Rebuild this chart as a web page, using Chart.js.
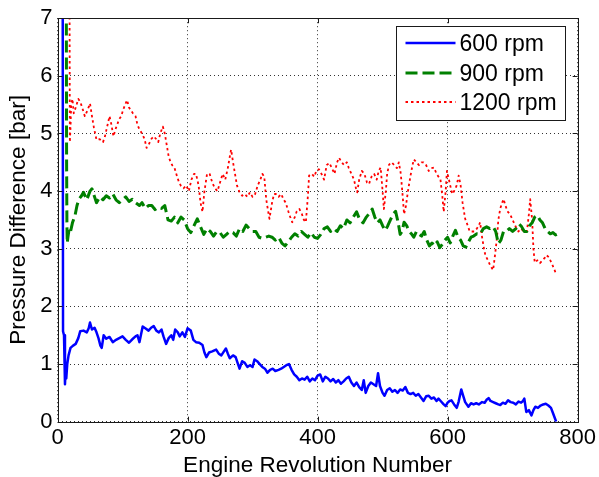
<!DOCTYPE html>
<html>
<head>
<meta charset="utf-8">
<script src="https://cdn.jsdelivr.net/npm/chart.js@4.4.1/dist/chart.umd.min.js"></script>
<style>
html,body{margin:0;padding:0;background:#fff;overflow:hidden}
#wrap{width:599px;height:477px;position:relative}
</style>
</head>
<body>
<div id="wrap"><canvas id="c" width="599" height="477"></canvas></div>
<script>
// ---- data ----
const seriesNames = ['600 rpm', '900 rpm', '1200 rpm'];
const xTickValues = [0, 200, 400, 600, 800];
const yTickValues = [0, 1, 2, 3, 4, 5, 6, 7];
const xAxisTitle = 'Engine Revolution Number';
const yAxisTitle = 'Pressure Difference [bar]';

const rpm600 = [
[8,7.5],[8.5,1.57],[10,1.5],[11.5,0.65],[12.5,0.9],[13.5,0.75],[15,1.0],[17,1.15],[20,1.28],[24,1.32],[28,1.35],[32,1.45],[35,1.57],[40,1.58],[45,1.55],[48,1.62],[50,1.72],[53,1.6],[57,1.63],[60,1.55],[63,1.45],[66,1.32],[68,1.28],[71,1.5],[75,1.44],[80,1.47],[85,1.38],[90,1.42],[95,1.45],[100,1.48],[105,1.42],[110,1.37],[115,1.43],[120,1.48],[123,1.5],[126,1.38],[131,1.65],[135,1.62],[140,1.58],[144,1.63],[148,1.66],[152,1.58],[156,1.55],[160,1.6],[163,1.48],[167,1.35],[171,1.45],[175,1.5],[178,1.42],[181,1.6],[185,1.55],[188,1.48],[192,1.55],[196,1.47],[200,1.62],[205,1.58],[209,1.42],[213,1.38],[218,1.37],[223,1.33],[226,1.2],[229,1.12],[233,1.2],[238,1.22],[244,1.25],[248,1.18],[252,1.15],[256,1.22],[259,1.27],[262,1.18],[265,1.1],[270,1.15],[274,1.12],[277,1.02],[280,0.92],[284,1.05],[288,1.02],[292,0.95],[296,0.98],[300,0.95],[303,1.08],[307,1.05],[311,1.0],[315,0.95],[319,0.92],[323,0.85],[327,0.9],[331,0.92],[335,0.88],[340,0.9],[344,0.92],[348,0.95],[352,0.98],[356,1.0],[360,0.9],[364,0.82],[368,0.78],[372,0.72],[376,0.75],[380,0.73],[384,0.78],[388,0.7],[392,0.75],[396,0.72],[400,0.8],[404,0.82],[408,0.7],[412,0.78],[416,0.75],[420,0.7],[424,0.74],[428,0.68],[432,0.72],[436,0.66],[440,0.7],[444,0.75],[448,0.78],[452,0.68],[456,0.62],[460,0.68],[464,0.6],[468,0.55],[471,0.72],[474,0.5],[478,0.62],[482,0.68],[486,0.65],[490,0.62],[493,0.84],[496,0.62],[500,0.5],[503,0.45],[507,0.55],[511,0.58],[515,0.52],[519,0.55],[523,0.5],[527,0.56],[531,0.54],[535,0.6],[539,0.5],[543,0.48],[547,0.5],[551,0.45],[555,0.48],[559,0.42],[563,0.36],[567,0.44],[571,0.45],[575,0.4],[579,0.42],[583,0.36],[586,0.4],[590,0.35],[594,0.3],[597,0.27],[600,0.33],[603,0.36],[606,0.37],[610,0.3],[614,0.24],[617,0.35],[621,0.56],[624,0.45],[627,0.34],[632,0.26],[636,0.32],[640,0.3],[644,0.32],[648,0.3],[653,0.34],[657,0.33],[660,0.38],[663,0.41],[666,0.36],[670,0.34],[674,0.32],[678,0.3],[681,0.29],[685,0.33],[689,0.31],[693,0.37],[697,0.34],[701,0.33],[705,0.3],[709,0.35],[713,0.33],[716,0.36],[718,0.4],[721,0.17],[725,0.2],[729,0.11],[732,0.2],[735,0.26],[739,0.24],[743,0.28],[747,0.3],[751,0.31],[755,0.28],[759,0.24],[762,0.15],[765,0.06],[767,0.0]
];

const rpm900 = [
[13.5,7.5],[14,4.5],[14.5,3.4],[15,3.1],[16,3.2],[18,3.35],[20,3.3],[23,3.45],[27,3.58],[30,3.75],[33,3.86],[37,3.92],[40,3.98],[45,3.85],[50,4.0],[53,4.04],[57,3.9],[60,3.8],[65,3.9],[70,3.85],[75,3.92],[80,3.88],[85,3.95],[90,3.85],[95,3.8],[100,3.85],[105,3.9],[110,3.82],[115,3.86],[120,3.8],[126,3.75],[130,3.8],[135,3.7],[140,3.75],[145,3.75],[150,3.68],[155,3.72],[160,3.7],[165,3.75],[168,3.6],[170,3.5],[175,3.48],[180,3.55],[185,3.45],[190,3.55],[195,3.5],[200,3.35],[205,3.28],[210,3.4],[215,3.52],[220,3.38],[225,3.25],[230,3.35],[235,3.3],[240,3.22],[245,3.3],[250,3.28],[255,3.2],[260,3.25],[265,3.3],[270,3.28],[275,3.22],[280,3.35],[285,3.3],[290,3.41],[295,3.35],[300,3.3],[305,3.3],[310,3.2],[315,3.18],[320,3.2],[325,3.22],[330,3.2],[335,3.15],[340,3.2],[345,3.1],[350,3.05],[355,3.12],[360,3.2],[365,3.26],[370,3.22],[375,3.3],[380,3.25],[385,3.2],[390,3.28],[395,3.2],[400,3.18],[405,3.25],[410,3.35],[415,3.38],[420,3.3],[425,3.35],[430,3.3],[435,3.4],[440,3.35],[445,3.5],[450,3.45],[455,3.55],[460,3.64],[465,3.5],[470,3.45],[475,3.55],[480,3.62],[484,3.69],[488,3.55],[492,3.45],[496,3.5],[500,3.4],[504,3.32],[508,3.4],[512,3.5],[516,3.6],[520,3.65],[524,3.45],[527,3.25],[530,3.3],[533,3.46],[537,3.4],[541,3.3],[545,3.25],[548,3.2],[552,3.3],[556,3.25],[560,3.22],[564,3.3],[568,3.15],[572,3.05],[576,3.1],[580,3.05],[584,3.12],[588,3.02],[592,3.08],[596,3.15],[600,3.2],[604,3.1],[608,3.22],[612,3.32],[616,3.2],[620,3.15],[624,3.05],[628,3.03],[632,3.12],[636,3.2],[640,3.22],[645,3.26],[650,3.25],[655,3.35],[660,3.38],[665,3.35],[670,3.38],[674,3.3],[678,3.09],[682,3.15],[686,3.3],[690,3.3],[695,3.35],[700,3.3],[705,3.35],[710,3.43],[714,3.38],[718,3.3],[722,3.3],[726,3.4],[730,3.45],[734,3.55],[738,3.58],[742,3.5],[746,3.45],[750,3.35],[754,3.3],[758,3.26],[762,3.28],[766,3.24],[768,3.25]
];

const rpm1200 = [
[18.5,7.5],[19,4.85],[20,5.1],[21,5.5],[23,5.6],[25,5.35],[28,5.45],[32,5.6],[35,5.55],[38,5.45],[42,5.3],[46,5.4],[50,5.52],[53,5.3],[56,5.1],[60,4.89],[65,4.9],[70,4.85],[73,4.95],[76,5.1],[80,5.3],[83,5.15],[86,4.95],[90,5.1],[95,5.25],[98,5.3],[101,5.41],[104,5.5],[107,5.58],[110,5.45],[113,5.4],[116,5.35],[120,5.3],[123,5.15],[126,5.07],[130,5.0],[134,4.9],[137,4.75],[140,4.8],[144,4.9],[148,4.95],[152,4.9],[155,4.85],[158,5.0],[162,5.12],[165,5.0],[168,4.8],[171,4.6],[174,4.5],[177,4.44],[180,4.4],[184,4.25],[187,4.15],[190,4.09],[194,4.05],[198,4.1],[202,4.0],[206,4.2],[210,4.3],[213,4.3],[217,4.1],[220,3.8],[223,3.64],[226,4.0],[230,4.3],[234,4.3],[238,4.15],[242,4.05],[246,4.0],[250,4.15],[254,4.3],[258,4.2],[262,4.4],[265,4.6],[267,4.72],[270,4.5],[273,4.3],[276,4.1],[280,3.98],[284,3.92],[288,3.95],[292,3.9],[296,3.98],[300,3.9],[304,3.95],[308,4.1],[312,4.2],[315,4.3],[318,4.25],[321,3.86],[324,3.65],[326,3.52],[330,3.8],[333,3.95],[336,3.95],[340,3.9],[344,3.95],[348,3.85],[351,3.8],[355,3.65],[358,3.55],[361,3.46],[365,3.55],[368,3.65],[372,3.69],[376,3.6],[379,3.5],[382,3.46],[385,3.9],[387,4.27],[391,4.3],[395,4.25],[398,4.35],[402,4.38],[406,4.3],[410,4.2],[414,4.45],[418,4.49],[422,4.4],[426,4.3],[430,4.5],[433,4.58],[437,4.5],[441,4.45],[445,4.5],[448,4.4],[452,4.3],[456,4.2],[459,4.05],[461,3.98],[464,4.2],[468,4.35],[472,4.3],[476,4.15],[479,4.12],[483,4.25],[487,4.3],[491,4.2],[494,4.35],[497,4.41],[500,4.0],[502,3.69],[505,4.0],[507,4.3],[510,4.46],[514,4.5],[518,4.45],[522,4.4],[525,4.5],[528,4.3],[531,3.9],[533,3.6],[536,3.75],[539,4.0],[543,4.27],[546,4.45],[548,4.55],[552,4.5],[556,4.45],[560,4.5],[563,4.5],[567,4.45],[571,4.35],[575,4.4],[579,4.41],[583,4.3],[586,4.25],[589,4.2],[592,3.9],[594,3.64],[597,4.0],[599,4.35],[602,4.2],[605,4.05],[607,3.95],[610,4.0],[614,4.1],[617,4.27],[620,4.1],[623,3.8],[627,3.52],[631,3.4],[634,3.3],[637,3.3],[641,3.3],[645,3.35],[648,3.4],[650,3.46],[653,3.2],[656,3.0],[658,2.89],[662,2.8],[666,2.7],[670,2.63],[673,2.9],[676,3.2],[678,3.5],[681,3.7],[684,3.8],[686,3.86],[689,3.75],[692,3.65],[696,3.6],[700,3.5],[704,3.4],[709,3.3],[713,3.35],[717,3.3],[722,3.3],[725,3.6],[727,3.86],[730,3.5],[732,3.0],[734,2.76],[738,2.8],[742,2.75],[746,2.8],[750,2.85],[752,2.89],[756,2.85],[760,2.75],[764,2.65],[767,2.55]
];

// ---- chart ----
const FONT = '"Liberation Sans", Arial, Helvetica, sans-serif';
const toXY = arr => arr.map(p => ({x: p[0], y: p[1]}));

const frameAndTicks = {
  id: 'frameAndTicks',
  afterDatasetsDraw(chart) {
    const {ctx, chartArea: a, scales: {x, y}} = chart;
    ctx.save();
    ctx.strokeStyle = '#1a1a1a';
    ctx.lineWidth = 1;
    ctx.setLineDash([]);
    const L = 5;
    ctx.beginPath();
    xTickValues.forEach(v => {
      const px = Math.round(x.getPixelForValue(v)) + 0.5;
      ctx.moveTo(px, a.bottom); ctx.lineTo(px, a.bottom - L);
      ctx.moveTo(px, a.top); ctx.lineTo(px, a.top + L);
    });
    yTickValues.forEach(v => {
      const py = Math.round(y.getPixelForValue(v)) + 0.5;
      ctx.moveTo(a.left, py); ctx.lineTo(a.left + L, py);
      ctx.moveTo(a.right, py); ctx.lineTo(a.right - L, py);
    });
    ctx.stroke();
    ctx.strokeRect(Math.round(a.left) + 0.5, Math.round(a.top) + 0.5,
                   Math.round(a.right - a.left), Math.round(a.bottom - a.top));
    ctx.restore();
  }
};

const boxLegend = {
  id: 'boxLegend',
  afterDraw(chart) {
    const {ctx, chartArea: a} = chart;
    const bw = 169, bh = 94;
    const bx = Math.round(a.right - 13 - bw) + 0.5;
    const by = Math.round(a.top + 8) + 0.5;
    ctx.save();
    ctx.fillStyle = '#fff';
    ctx.fillRect(bx, by, bw, bh);
    ctx.strokeStyle = '#1a1a1a';
    ctx.lineWidth = 1;
    ctx.strokeRect(bx, by, bw, bh);
    const rows = [18.5, 48.5, 77.5];
    chart.data.datasets.forEach((ds, i) => {
      const cy = by + rows[i];
      ctx.beginPath();
      ctx.strokeStyle = ds.borderColor;
      ctx.lineWidth = ds.borderWidth;
      ctx.setLineDash(ds.borderDash || []);
      ctx.moveTo(bx + 9, cy - 2);
      ctx.lineTo(bx + 59, cy - 2);
      ctx.stroke();
      ctx.setLineDash([]);
      ctx.fillStyle = '#000';
      ctx.font = '23px ' + FONT;
      ctx.textBaseline = 'middle';
      ctx.textAlign = 'left';
      ctx.fillText(ds.label, bx + 63, cy);
    });
    ctx.restore();
  }
};

new Chart(document.getElementById('c'), {
  type: 'line',
  data: {
    datasets: [
      {label: seriesNames[0], data: toXY(rpm600), borderColor: '#0000ff', borderWidth: 2.5, borderDash: []},
      {label: seriesNames[1], data: toXY(rpm900), borderColor: '#008000', borderWidth: 3, borderDash: [12, 5]},
      {label: seriesNames[2], data: toXY(rpm1200), borderColor: '#ff0000', borderWidth: 1.8, borderDash: [2.5, 3]}
    ]
  },
  options: {
    responsive: false,
    animation: false,
    devicePixelRatio: 1,
    layout: {padding: {left: 0, right: 19.5, top: 14, bottom: 0}},
    elements: {point: {radius: 0, hoverRadius: 0}, line: {tension: 0, borderJoinStyle: 'round'}},
    plugins: {legend: {display: false}, tooltip: {enabled: false}},
    scales: {
      x: {
        type: 'linear', min: 0, max: 800,
        afterBuildTicks: s => { s.ticks = xTickValues.map(v => ({value: v})); },
        afterFit: s => { s.height = 55.3; },
        grid: {color: '#333', lineWidth: 1, drawTicks: false},
        border: {display: false, dash: [1, 3]},
        ticks: {padding: 3, maxRotation: 0, color: '#000', font: {family: FONT, size: 22}},
        title: {display: true, text: xAxisTitle, color: '#000', padding: {top: 0, bottom: 0},
                font: {family: FONT, size: 22.5, lineHeight: 1}}
      },
      y: {
        type: 'linear', min: 0, max: 7,
        afterBuildTicks: s => { s.ticks = yTickValues.map(v => ({value: v})); },
        afterFit: s => { s.width = 57.5; },
        grid: {color: '#333', lineWidth: 1, drawTicks: false},
        border: {display: false, dash: [1, 3]},
        ticks: {padding: 5, color: '#000', font: {family: FONT, size: 22}},
        title: {display: true, text: yAxisTitle, color: '#000', padding: {top: 8, bottom: 0},
                font: {family: FONT, size: 22.5, lineHeight: 1}}
      }
    }
  },
  plugins: [frameAndTicks, boxLegend]
});
</script>
</body>
</html>
